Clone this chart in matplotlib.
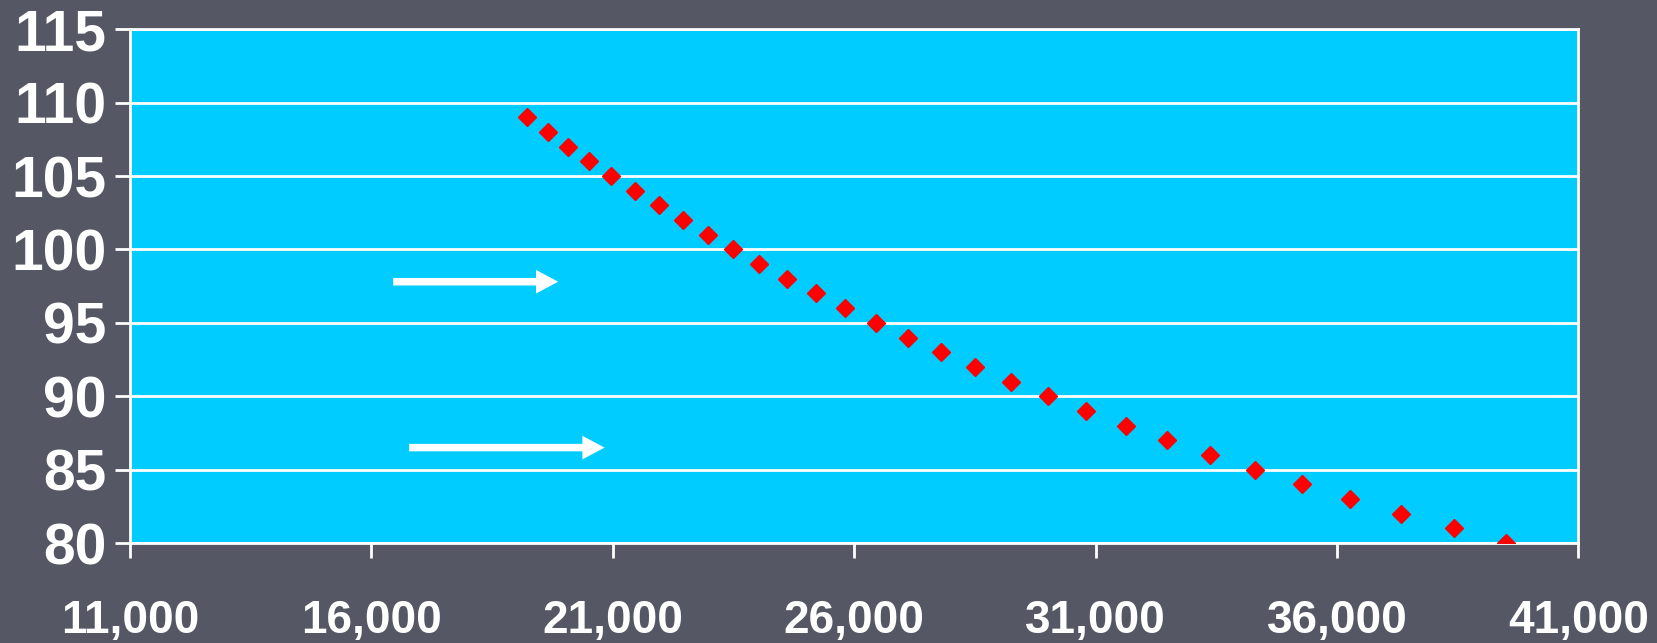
import matplotlib.pyplot as plt

# readings of the plotted points
y_vals = [109, 108, 107, 106, 105, 104, 103, 102, 101, 100,
          99, 98, 97, 96, 95, 94, 93, 92, 91, 90,
          89, 88, 87, 86, 85, 84, 83, 82, 81, 80]
x_vals = [19230, 19650, 20070, 20500, 20960, 21450, 21950, 22450, 22980, 23500,
          24030, 24600, 25210, 25820, 26460, 27120, 27800, 28500, 29240, 30010,
          30800, 31630, 32480, 33380, 34300, 35280, 36270, 37320, 38420, 39510]

x_ticks = [11000, 16000, 21000, 26000, 31000, 36000, 41000]
y_ticks = [80, 85, 90, 95, 100, 105, 110, 115]

# two white arrows (start x, end x, y)
arrows = [(16450, 19870, 97.8), (16780, 20830, 86.5)]

bg = '#555764'
fig = plt.figure(figsize=(16.57, 6.43), dpi=100, facecolor=bg)
ax = fig.add_axes([0.0785, 0.1555, 0.874, 0.799])
ax.set_facecolor('#00CCFF')

ax.set_xlim(11000, 41000)
ax.set_ylim(80, 115)
ax.set_xticks(x_ticks)
ax.set_yticks(y_ticks)
ax.set_xticklabels(['{:,}'.format(v) for v in x_ticks])
ax.grid(axis='y', color='white', linewidth=2)
ax.set_axisbelow(True)

for s in ax.spines.values():
    s.set_color('white')
    s.set_linewidth(2)

ax.tick_params(axis='both', colors='white', width=2, length=11, direction='out')
ax.tick_params(axis='x', pad=29, labelsize=33)
ax.tick_params(axis='y', pad=6, labelsize=41)
for lab in ax.get_xticklabels() + ax.get_yticklabels():
    lab.set_fontfamily('Liberation Sans')
    lab.set_fontweight('bold')
    lab.set_color('white')

ax.plot(x_vals, y_vals, linestyle='none', marker='D', markersize=9,
        color='#FF0000', zorder=3)

for x0, x1, y in arrows:
    ax.annotate('', xy=(x1, y), xytext=(x0, y),
                arrowprops=dict(arrowstyle='simple,head_width=0.85,head_length=0.8,tail_width=0.27',
                                mutation_scale=20, color='white', lw=0,
                                shrinkA=0, shrinkB=0))

fig.savefig('out.png', dpi=100, facecolor=bg)
